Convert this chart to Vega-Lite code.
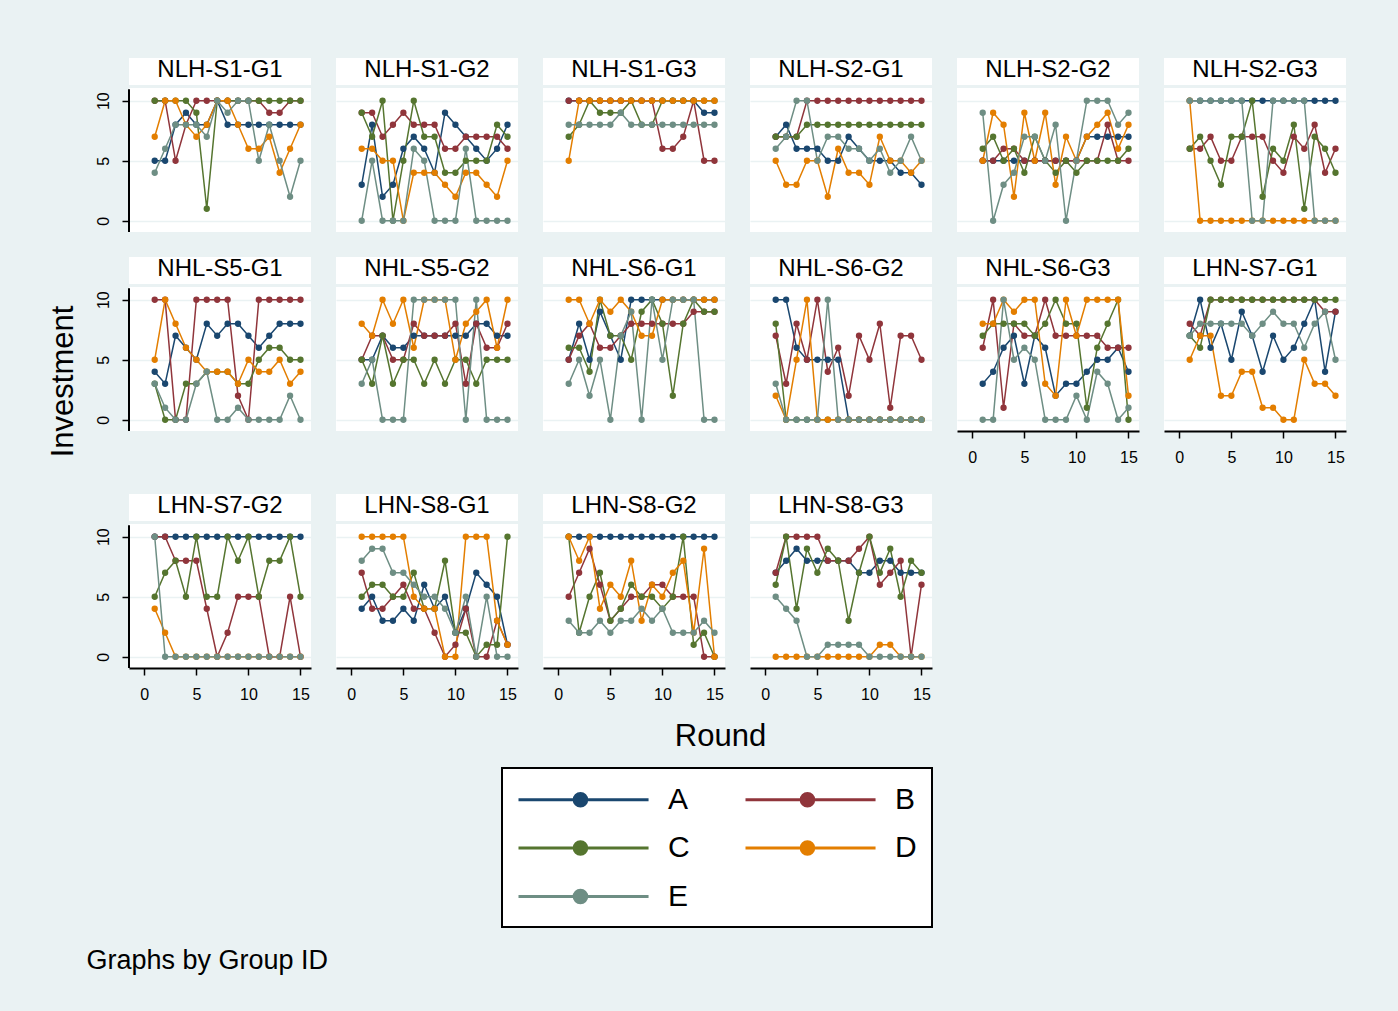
{
"$schema":"https://vega.github.io/schema/vega-lite/v6.json",
"background":"#EAF2F3",
"padding":{"left":46,"top":58,"right":53,"bottom":40},
"data":{"values":[
{"g":1,"p":"A","r":1,"v":5},{"g":1,"p":"A","r":2,"v":5},{"g":1,"p":"A","r":3,"v":8},{"g":1,"p":"A","r":4,"v":9},{"g":1,"p":"A","r":5,"v":8},{"g":1,"p":"A","r":6,"v":8},{"g":1,"p":"A","r":7,"v":10},{"g":1,"p":"A","r":8,"v":8},{"g":1,"p":"A","r":9,"v":8},{"g":1,"p":"A","r":10,"v":8},{"g":1,"p":"A","r":11,"v":8},{"g":1,"p":"A","r":12,"v":8},{"g":1,"p":"A","r":13,"v":8},{"g":1,"p":"A","r":14,"v":8},{"g":1,"p":"A","r":15,"v":8},
{"g":1,"p":"B","r":1,"v":10},{"g":1,"p":"B","r":2,"v":10},{"g":1,"p":"B","r":3,"v":5},{"g":1,"p":"B","r":4,"v":8},{"g":1,"p":"B","r":5,"v":10},{"g":1,"p":"B","r":6,"v":10},{"g":1,"p":"B","r":7,"v":10},{"g":1,"p":"B","r":8,"v":10},{"g":1,"p":"B","r":9,"v":10},{"g":1,"p":"B","r":10,"v":10},{"g":1,"p":"B","r":11,"v":10},{"g":1,"p":"B","r":12,"v":9},{"g":1,"p":"B","r":13,"v":9},{"g":1,"p":"B","r":14,"v":10},{"g":1,"p":"B","r":15,"v":10},
{"g":1,"p":"C","r":1,"v":10},{"g":1,"p":"C","r":2,"v":10},{"g":1,"p":"C","r":3,"v":10},{"g":1,"p":"C","r":4,"v":10},{"g":1,"p":"C","r":5,"v":9},{"g":1,"p":"C","r":6,"v":1},{"g":1,"p":"C","r":7,"v":10},{"g":1,"p":"C","r":8,"v":10},{"g":1,"p":"C","r":9,"v":10},{"g":1,"p":"C","r":10,"v":10},{"g":1,"p":"C","r":11,"v":10},{"g":1,"p":"C","r":12,"v":10},{"g":1,"p":"C","r":13,"v":10},{"g":1,"p":"C","r":14,"v":10},{"g":1,"p":"C","r":15,"v":10},
{"g":1,"p":"D","r":1,"v":7},{"g":1,"p":"D","r":2,"v":10},{"g":1,"p":"D","r":3,"v":10},{"g":1,"p":"D","r":4,"v":8},{"g":1,"p":"D","r":5,"v":7},{"g":1,"p":"D","r":6,"v":8},{"g":1,"p":"D","r":7,"v":10},{"g":1,"p":"D","r":8,"v":10},{"g":1,"p":"D","r":9,"v":8},{"g":1,"p":"D","r":10,"v":6},{"g":1,"p":"D","r":11,"v":6},{"g":1,"p":"D","r":12,"v":7},{"g":1,"p":"D","r":13,"v":4},{"g":1,"p":"D","r":14,"v":6},{"g":1,"p":"D","r":15,"v":8},
{"g":1,"p":"E","r":1,"v":4},{"g":1,"p":"E","r":2,"v":6},{"g":1,"p":"E","r":3,"v":8},{"g":1,"p":"E","r":4,"v":8},{"g":1,"p":"E","r":5,"v":8},{"g":1,"p":"E","r":6,"v":7},{"g":1,"p":"E","r":7,"v":10},{"g":1,"p":"E","r":8,"v":9},{"g":1,"p":"E","r":9,"v":10},{"g":1,"p":"E","r":10,"v":10},{"g":1,"p":"E","r":11,"v":5},{"g":1,"p":"E","r":12,"v":8},{"g":1,"p":"E","r":13,"v":5},{"g":1,"p":"E","r":14,"v":2},{"g":1,"p":"E","r":15,"v":5},
{"g":2,"p":"A","r":1,"v":3},{"g":2,"p":"A","r":2,"v":8},{"g":2,"p":"A","r":3,"v":2},{"g":2,"p":"A","r":4,"v":3},{"g":2,"p":"A","r":5,"v":6},{"g":2,"p":"A","r":6,"v":7},{"g":2,"p":"A","r":7,"v":6},{"g":2,"p":"A","r":8,"v":4},{"g":2,"p":"A","r":9,"v":9},{"g":2,"p":"A","r":10,"v":8},{"g":2,"p":"A","r":11,"v":7},{"g":2,"p":"A","r":12,"v":6},{"g":2,"p":"A","r":13,"v":5},{"g":2,"p":"A","r":14,"v":6},{"g":2,"p":"A","r":15,"v":8},
{"g":2,"p":"B","r":1,"v":9},{"g":2,"p":"B","r":2,"v":9},{"g":2,"p":"B","r":3,"v":7},{"g":2,"p":"B","r":4,"v":8},{"g":2,"p":"B","r":5,"v":9},{"g":2,"p":"B","r":6,"v":8},{"g":2,"p":"B","r":7,"v":8},{"g":2,"p":"B","r":8,"v":8},{"g":2,"p":"B","r":9,"v":6},{"g":2,"p":"B","r":10,"v":6},{"g":2,"p":"B","r":11,"v":7},{"g":2,"p":"B","r":12,"v":7},{"g":2,"p":"B","r":13,"v":7},{"g":2,"p":"B","r":14,"v":7},{"g":2,"p":"B","r":15,"v":6},
{"g":2,"p":"C","r":1,"v":9},{"g":2,"p":"C","r":2,"v":7},{"g":2,"p":"C","r":3,"v":10},{"g":2,"p":"C","r":4,"v":0},{"g":2,"p":"C","r":5,"v":5},{"g":2,"p":"C","r":6,"v":10},{"g":2,"p":"C","r":7,"v":7},{"g":2,"p":"C","r":8,"v":7},{"g":2,"p":"C","r":9,"v":4},{"g":2,"p":"C","r":10,"v":4},{"g":2,"p":"C","r":11,"v":5},{"g":2,"p":"C","r":12,"v":5},{"g":2,"p":"C","r":13,"v":5},{"g":2,"p":"C","r":14,"v":8},{"g":2,"p":"C","r":15,"v":7},
{"g":2,"p":"D","r":1,"v":6},{"g":2,"p":"D","r":2,"v":6},{"g":2,"p":"D","r":3,"v":5},{"g":2,"p":"D","r":4,"v":5},{"g":2,"p":"D","r":5,"v":0},{"g":2,"p":"D","r":6,"v":4},{"g":2,"p":"D","r":7,"v":4},{"g":2,"p":"D","r":8,"v":4},{"g":2,"p":"D","r":9,"v":3},{"g":2,"p":"D","r":10,"v":2},{"g":2,"p":"D","r":11,"v":4},{"g":2,"p":"D","r":12,"v":4},{"g":2,"p":"D","r":13,"v":3},{"g":2,"p":"D","r":14,"v":2},{"g":2,"p":"D","r":15,"v":5},
{"g":2,"p":"E","r":1,"v":0},{"g":2,"p":"E","r":2,"v":5},{"g":2,"p":"E","r":3,"v":0},{"g":2,"p":"E","r":4,"v":0},{"g":2,"p":"E","r":5,"v":0},{"g":2,"p":"E","r":6,"v":6},{"g":2,"p":"E","r":7,"v":5},{"g":2,"p":"E","r":8,"v":0},{"g":2,"p":"E","r":9,"v":0},{"g":2,"p":"E","r":10,"v":0},{"g":2,"p":"E","r":11,"v":6},{"g":2,"p":"E","r":12,"v":0},{"g":2,"p":"E","r":13,"v":0},{"g":2,"p":"E","r":14,"v":0},{"g":2,"p":"E","r":15,"v":0},
{"g":3,"p":"A","r":1,"v":10},{"g":3,"p":"A","r":2,"v":10},{"g":3,"p":"A","r":3,"v":10},{"g":3,"p":"A","r":4,"v":10},{"g":3,"p":"A","r":5,"v":10},{"g":3,"p":"A","r":6,"v":10},{"g":3,"p":"A","r":7,"v":10},{"g":3,"p":"A","r":8,"v":10},{"g":3,"p":"A","r":9,"v":10},{"g":3,"p":"A","r":10,"v":10},{"g":3,"p":"A","r":11,"v":10},{"g":3,"p":"A","r":12,"v":10},{"g":3,"p":"A","r":13,"v":10},{"g":3,"p":"A","r":14,"v":9},{"g":3,"p":"A","r":15,"v":9},
{"g":3,"p":"B","r":1,"v":10},{"g":3,"p":"B","r":2,"v":10},{"g":3,"p":"B","r":3,"v":10},{"g":3,"p":"B","r":4,"v":10},{"g":3,"p":"B","r":5,"v":10},{"g":3,"p":"B","r":6,"v":10},{"g":3,"p":"B","r":7,"v":10},{"g":3,"p":"B","r":8,"v":10},{"g":3,"p":"B","r":9,"v":10},{"g":3,"p":"B","r":10,"v":6},{"g":3,"p":"B","r":11,"v":6},{"g":3,"p":"B","r":12,"v":7},{"g":3,"p":"B","r":13,"v":10},{"g":3,"p":"B","r":14,"v":5},{"g":3,"p":"B","r":15,"v":5},
{"g":3,"p":"C","r":1,"v":7},{"g":3,"p":"C","r":2,"v":8},{"g":3,"p":"C","r":3,"v":10},{"g":3,"p":"C","r":4,"v":9},{"g":3,"p":"C","r":5,"v":9},{"g":3,"p":"C","r":6,"v":9},{"g":3,"p":"C","r":7,"v":10},{"g":3,"p":"C","r":8,"v":8},{"g":3,"p":"C","r":9,"v":8},{"g":3,"p":"C","r":10,"v":10},{"g":3,"p":"C","r":11,"v":10},{"g":3,"p":"C","r":12,"v":10},{"g":3,"p":"C","r":13,"v":10},{"g":3,"p":"C","r":14,"v":10},{"g":3,"p":"C","r":15,"v":10},
{"g":3,"p":"D","r":1,"v":5},{"g":3,"p":"D","r":2,"v":10},{"g":3,"p":"D","r":3,"v":10},{"g":3,"p":"D","r":4,"v":10},{"g":3,"p":"D","r":5,"v":10},{"g":3,"p":"D","r":6,"v":10},{"g":3,"p":"D","r":7,"v":10},{"g":3,"p":"D","r":8,"v":10},{"g":3,"p":"D","r":9,"v":10},{"g":3,"p":"D","r":10,"v":10},{"g":3,"p":"D","r":11,"v":10},{"g":3,"p":"D","r":12,"v":10},{"g":3,"p":"D","r":13,"v":10},{"g":3,"p":"D","r":14,"v":10},{"g":3,"p":"D","r":15,"v":10},
{"g":3,"p":"E","r":1,"v":8},{"g":3,"p":"E","r":2,"v":8},{"g":3,"p":"E","r":3,"v":8},{"g":3,"p":"E","r":4,"v":8},{"g":3,"p":"E","r":5,"v":8},{"g":3,"p":"E","r":6,"v":9},{"g":3,"p":"E","r":7,"v":8},{"g":3,"p":"E","r":8,"v":8},{"g":3,"p":"E","r":9,"v":8},{"g":3,"p":"E","r":10,"v":8},{"g":3,"p":"E","r":11,"v":8},{"g":3,"p":"E","r":12,"v":8},{"g":3,"p":"E","r":13,"v":8},{"g":3,"p":"E","r":14,"v":8},{"g":3,"p":"E","r":15,"v":8},
{"g":4,"p":"A","r":1,"v":7},{"g":4,"p":"A","r":2,"v":8},{"g":4,"p":"A","r":3,"v":6},{"g":4,"p":"A","r":4,"v":6},{"g":4,"p":"A","r":5,"v":6},{"g":4,"p":"A","r":6,"v":5},{"g":4,"p":"A","r":7,"v":5},{"g":4,"p":"A","r":8,"v":7},{"g":4,"p":"A","r":9,"v":6},{"g":4,"p":"A","r":10,"v":5},{"g":4,"p":"A","r":11,"v":5},{"g":4,"p":"A","r":12,"v":5},{"g":4,"p":"A","r":13,"v":4},{"g":4,"p":"A","r":14,"v":4},{"g":4,"p":"A","r":15,"v":3},
{"g":4,"p":"B","r":1,"v":7},{"g":4,"p":"B","r":2,"v":7},{"g":4,"p":"B","r":3,"v":7},{"g":4,"p":"B","r":4,"v":10},{"g":4,"p":"B","r":5,"v":10},{"g":4,"p":"B","r":6,"v":10},{"g":4,"p":"B","r":7,"v":10},{"g":4,"p":"B","r":8,"v":10},{"g":4,"p":"B","r":9,"v":10},{"g":4,"p":"B","r":10,"v":10},{"g":4,"p":"B","r":11,"v":10},{"g":4,"p":"B","r":12,"v":10},{"g":4,"p":"B","r":13,"v":10},{"g":4,"p":"B","r":14,"v":10},{"g":4,"p":"B","r":15,"v":10},
{"g":4,"p":"C","r":1,"v":7},{"g":4,"p":"C","r":2,"v":7},{"g":4,"p":"C","r":3,"v":7},{"g":4,"p":"C","r":4,"v":8},{"g":4,"p":"C","r":5,"v":8},{"g":4,"p":"C","r":6,"v":8},{"g":4,"p":"C","r":7,"v":8},{"g":4,"p":"C","r":8,"v":8},{"g":4,"p":"C","r":9,"v":8},{"g":4,"p":"C","r":10,"v":8},{"g":4,"p":"C","r":11,"v":8},{"g":4,"p":"C","r":12,"v":8},{"g":4,"p":"C","r":13,"v":8},{"g":4,"p":"C","r":14,"v":8},{"g":4,"p":"C","r":15,"v":8},
{"g":4,"p":"D","r":1,"v":5},{"g":4,"p":"D","r":2,"v":3},{"g":4,"p":"D","r":3,"v":3},{"g":4,"p":"D","r":4,"v":5},{"g":4,"p":"D","r":5,"v":5},{"g":4,"p":"D","r":6,"v":2},{"g":4,"p":"D","r":7,"v":6},{"g":4,"p":"D","r":8,"v":4},{"g":4,"p":"D","r":9,"v":4},{"g":4,"p":"D","r":10,"v":3},{"g":4,"p":"D","r":11,"v":7},{"g":4,"p":"D","r":12,"v":5},{"g":4,"p":"D","r":13,"v":5},{"g":4,"p":"D","r":14,"v":4},{"g":4,"p":"D","r":15,"v":5},
{"g":4,"p":"E","r":1,"v":6},{"g":4,"p":"E","r":2,"v":7},{"g":4,"p":"E","r":3,"v":10},{"g":4,"p":"E","r":4,"v":10},{"g":4,"p":"E","r":5,"v":5},{"g":4,"p":"E","r":6,"v":7},{"g":4,"p":"E","r":7,"v":7},{"g":4,"p":"E","r":8,"v":6},{"g":4,"p":"E","r":9,"v":6},{"g":4,"p":"E","r":10,"v":5},{"g":4,"p":"E","r":11,"v":6},{"g":4,"p":"E","r":12,"v":4},{"g":4,"p":"E","r":13,"v":5},{"g":4,"p":"E","r":14,"v":7},{"g":4,"p":"E","r":15,"v":5},
{"g":5,"p":"A","r":1,"v":5},{"g":5,"p":"A","r":2,"v":5},{"g":5,"p":"A","r":3,"v":5},{"g":5,"p":"A","r":4,"v":5},{"g":5,"p":"A","r":5,"v":5},{"g":5,"p":"A","r":6,"v":5},{"g":5,"p":"A","r":7,"v":5},{"g":5,"p":"A","r":8,"v":5},{"g":5,"p":"A","r":9,"v":5},{"g":5,"p":"A","r":10,"v":5},{"g":5,"p":"A","r":11,"v":7},{"g":5,"p":"A","r":12,"v":7},{"g":5,"p":"A","r":13,"v":7},{"g":5,"p":"A","r":14,"v":7},{"g":5,"p":"A","r":15,"v":7},
{"g":5,"p":"B","r":1,"v":5},{"g":5,"p":"B","r":2,"v":5},{"g":5,"p":"B","r":3,"v":6},{"g":5,"p":"B","r":4,"v":6},{"g":5,"p":"B","r":5,"v":5},{"g":5,"p":"B","r":6,"v":5},{"g":5,"p":"B","r":7,"v":5},{"g":5,"p":"B","r":8,"v":5},{"g":5,"p":"B","r":9,"v":5},{"g":5,"p":"B","r":10,"v":5},{"g":5,"p":"B","r":11,"v":5},{"g":5,"p":"B","r":12,"v":5},{"g":5,"p":"B","r":13,"v":8},{"g":5,"p":"B","r":14,"v":5},{"g":5,"p":"B","r":15,"v":5},
{"g":5,"p":"C","r":1,"v":6},{"g":5,"p":"C","r":2,"v":7},{"g":5,"p":"C","r":3,"v":5},{"g":5,"p":"C","r":4,"v":6},{"g":5,"p":"C","r":5,"v":4},{"g":5,"p":"C","r":6,"v":7},{"g":5,"p":"C","r":7,"v":5},{"g":5,"p":"C","r":8,"v":4},{"g":5,"p":"C","r":9,"v":5},{"g":5,"p":"C","r":10,"v":4},{"g":5,"p":"C","r":11,"v":5},{"g":5,"p":"C","r":12,"v":5},{"g":5,"p":"C","r":13,"v":5},{"g":5,"p":"C","r":14,"v":5},{"g":5,"p":"C","r":15,"v":6},
{"g":5,"p":"D","r":1,"v":5},{"g":5,"p":"D","r":2,"v":9},{"g":5,"p":"D","r":3,"v":8},{"g":5,"p":"D","r":4,"v":2},{"g":5,"p":"D","r":5,"v":9},{"g":5,"p":"D","r":6,"v":5},{"g":5,"p":"D","r":7,"v":9},{"g":5,"p":"D","r":8,"v":3},{"g":5,"p":"D","r":9,"v":7},{"g":5,"p":"D","r":10,"v":5},{"g":5,"p":"D","r":11,"v":7},{"g":5,"p":"D","r":12,"v":8},{"g":5,"p":"D","r":13,"v":9},{"g":5,"p":"D","r":14,"v":6},{"g":5,"p":"D","r":15,"v":8},
{"g":5,"p":"E","r":1,"v":9},{"g":5,"p":"E","r":2,"v":0},{"g":5,"p":"E","r":3,"v":3},{"g":5,"p":"E","r":4,"v":4},{"g":5,"p":"E","r":5,"v":7},{"g":5,"p":"E","r":6,"v":7},{"g":5,"p":"E","r":7,"v":5},{"g":5,"p":"E","r":8,"v":8},{"g":5,"p":"E","r":9,"v":0},{"g":5,"p":"E","r":10,"v":5},{"g":5,"p":"E","r":11,"v":10},{"g":5,"p":"E","r":12,"v":10},{"g":5,"p":"E","r":13,"v":10},{"g":5,"p":"E","r":14,"v":8},{"g":5,"p":"E","r":15,"v":9},
{"g":6,"p":"A","r":1,"v":10},{"g":6,"p":"A","r":2,"v":10},{"g":6,"p":"A","r":3,"v":10},{"g":6,"p":"A","r":4,"v":10},{"g":6,"p":"A","r":5,"v":10},{"g":6,"p":"A","r":6,"v":10},{"g":6,"p":"A","r":7,"v":10},{"g":6,"p":"A","r":8,"v":10},{"g":6,"p":"A","r":9,"v":10},{"g":6,"p":"A","r":10,"v":10},{"g":6,"p":"A","r":11,"v":10},{"g":6,"p":"A","r":12,"v":10},{"g":6,"p":"A","r":13,"v":10},{"g":6,"p":"A","r":14,"v":10},{"g":6,"p":"A","r":15,"v":10},
{"g":6,"p":"B","r":1,"v":6},{"g":6,"p":"B","r":2,"v":6},{"g":6,"p":"B","r":3,"v":7},{"g":6,"p":"B","r":4,"v":5},{"g":6,"p":"B","r":5,"v":5},{"g":6,"p":"B","r":6,"v":7},{"g":6,"p":"B","r":7,"v":7},{"g":6,"p":"B","r":8,"v":7},{"g":6,"p":"B","r":9,"v":5},{"g":6,"p":"B","r":10,"v":4},{"g":6,"p":"B","r":11,"v":7},{"g":6,"p":"B","r":12,"v":6},{"g":6,"p":"B","r":13,"v":8},{"g":6,"p":"B","r":14,"v":4},{"g":6,"p":"B","r":15,"v":6},
{"g":6,"p":"C","r":1,"v":6},{"g":6,"p":"C","r":2,"v":7},{"g":6,"p":"C","r":3,"v":5},{"g":6,"p":"C","r":4,"v":3},{"g":6,"p":"C","r":5,"v":7},{"g":6,"p":"C","r":6,"v":7},{"g":6,"p":"C","r":7,"v":10},{"g":6,"p":"C","r":8,"v":2},{"g":6,"p":"C","r":9,"v":6},{"g":6,"p":"C","r":10,"v":5},{"g":6,"p":"C","r":11,"v":8},{"g":6,"p":"C","r":12,"v":1},{"g":6,"p":"C","r":13,"v":7},{"g":6,"p":"C","r":14,"v":6},{"g":6,"p":"C","r":15,"v":4},
{"g":6,"p":"D","r":1,"v":10},{"g":6,"p":"D","r":2,"v":0},{"g":6,"p":"D","r":3,"v":0},{"g":6,"p":"D","r":4,"v":0},{"g":6,"p":"D","r":5,"v":0},{"g":6,"p":"D","r":6,"v":0},{"g":6,"p":"D","r":7,"v":0},{"g":6,"p":"D","r":8,"v":0},{"g":6,"p":"D","r":9,"v":0},{"g":6,"p":"D","r":10,"v":0},{"g":6,"p":"D","r":11,"v":0},{"g":6,"p":"D","r":12,"v":0},{"g":6,"p":"D","r":13,"v":0},{"g":6,"p":"D","r":14,"v":0},{"g":6,"p":"D","r":15,"v":0},
{"g":6,"p":"E","r":1,"v":10},{"g":6,"p":"E","r":2,"v":10},{"g":6,"p":"E","r":3,"v":10},{"g":6,"p":"E","r":4,"v":10},{"g":6,"p":"E","r":5,"v":10},{"g":6,"p":"E","r":6,"v":10},{"g":6,"p":"E","r":7,"v":0},{"g":6,"p":"E","r":8,"v":0},{"g":6,"p":"E","r":9,"v":10},{"g":6,"p":"E","r":10,"v":10},{"g":6,"p":"E","r":11,"v":10},{"g":6,"p":"E","r":12,"v":10},{"g":6,"p":"E","r":13,"v":0},{"g":6,"p":"E","r":14,"v":0},{"g":6,"p":"E","r":15,"v":0},
{"g":7,"p":"A","r":1,"v":4},{"g":7,"p":"A","r":2,"v":3},{"g":7,"p":"A","r":3,"v":7},{"g":7,"p":"A","r":4,"v":6},{"g":7,"p":"A","r":5,"v":5},{"g":7,"p":"A","r":6,"v":8},{"g":7,"p":"A","r":7,"v":7},{"g":7,"p":"A","r":8,"v":8},{"g":7,"p":"A","r":9,"v":8},{"g":7,"p":"A","r":10,"v":7},{"g":7,"p":"A","r":11,"v":6},{"g":7,"p":"A","r":12,"v":7},{"g":7,"p":"A","r":13,"v":8},{"g":7,"p":"A","r":14,"v":8},{"g":7,"p":"A","r":15,"v":8},
{"g":7,"p":"B","r":1,"v":10},{"g":7,"p":"B","r":2,"v":10},{"g":7,"p":"B","r":3,"v":0},{"g":7,"p":"B","r":4,"v":0},{"g":7,"p":"B","r":5,"v":10},{"g":7,"p":"B","r":6,"v":10},{"g":7,"p":"B","r":7,"v":10},{"g":7,"p":"B","r":8,"v":10},{"g":7,"p":"B","r":9,"v":2},{"g":7,"p":"B","r":10,"v":0},{"g":7,"p":"B","r":11,"v":10},{"g":7,"p":"B","r":12,"v":10},{"g":7,"p":"B","r":13,"v":10},{"g":7,"p":"B","r":14,"v":10},{"g":7,"p":"B","r":15,"v":10},
{"g":7,"p":"C","r":1,"v":3},{"g":7,"p":"C","r":2,"v":0},{"g":7,"p":"C","r":3,"v":0},{"g":7,"p":"C","r":4,"v":3},{"g":7,"p":"C","r":5,"v":3},{"g":7,"p":"C","r":6,"v":4},{"g":7,"p":"C","r":7,"v":4},{"g":7,"p":"C","r":8,"v":4},{"g":7,"p":"C","r":9,"v":3},{"g":7,"p":"C","r":10,"v":3},{"g":7,"p":"C","r":11,"v":5},{"g":7,"p":"C","r":12,"v":6},{"g":7,"p":"C","r":13,"v":6},{"g":7,"p":"C","r":14,"v":5},{"g":7,"p":"C","r":15,"v":5},
{"g":7,"p":"D","r":1,"v":5},{"g":7,"p":"D","r":2,"v":10},{"g":7,"p":"D","r":3,"v":8},{"g":7,"p":"D","r":4,"v":6},{"g":7,"p":"D","r":5,"v":5},{"g":7,"p":"D","r":6,"v":4},{"g":7,"p":"D","r":7,"v":4},{"g":7,"p":"D","r":8,"v":4},{"g":7,"p":"D","r":9,"v":3},{"g":7,"p":"D","r":10,"v":5},{"g":7,"p":"D","r":11,"v":4},{"g":7,"p":"D","r":12,"v":4},{"g":7,"p":"D","r":13,"v":5},{"g":7,"p":"D","r":14,"v":3},{"g":7,"p":"D","r":15,"v":4},
{"g":7,"p":"E","r":1,"v":3},{"g":7,"p":"E","r":2,"v":1},{"g":7,"p":"E","r":3,"v":0},{"g":7,"p":"E","r":4,"v":0},{"g":7,"p":"E","r":5,"v":3},{"g":7,"p":"E","r":6,"v":4},{"g":7,"p":"E","r":7,"v":0},{"g":7,"p":"E","r":8,"v":0},{"g":7,"p":"E","r":9,"v":1},{"g":7,"p":"E","r":10,"v":0},{"g":7,"p":"E","r":11,"v":0},{"g":7,"p":"E","r":12,"v":0},{"g":7,"p":"E","r":13,"v":0},{"g":7,"p":"E","r":14,"v":2},{"g":7,"p":"E","r":15,"v":0},
{"g":8,"p":"A","r":1,"v":5},{"g":8,"p":"A","r":2,"v":5},{"g":8,"p":"A","r":3,"v":7},{"g":8,"p":"A","r":4,"v":6},{"g":8,"p":"A","r":5,"v":6},{"g":8,"p":"A","r":6,"v":7},{"g":8,"p":"A","r":7,"v":7},{"g":8,"p":"A","r":8,"v":7},{"g":8,"p":"A","r":9,"v":7},{"g":8,"p":"A","r":10,"v":7},{"g":8,"p":"A","r":11,"v":7},{"g":8,"p":"A","r":12,"v":8},{"g":8,"p":"A","r":13,"v":8},{"g":8,"p":"A","r":14,"v":7},{"g":8,"p":"A","r":15,"v":7},
{"g":8,"p":"B","r":1,"v":5},{"g":8,"p":"B","r":2,"v":7},{"g":8,"p":"B","r":3,"v":7},{"g":8,"p":"B","r":4,"v":5},{"g":8,"p":"B","r":5,"v":5},{"g":8,"p":"B","r":6,"v":8},{"g":8,"p":"B","r":7,"v":7},{"g":8,"p":"B","r":8,"v":7},{"g":8,"p":"B","r":9,"v":7},{"g":8,"p":"B","r":10,"v":8},{"g":8,"p":"B","r":11,"v":3},{"g":8,"p":"B","r":12,"v":8},{"g":8,"p":"B","r":13,"v":6},{"g":8,"p":"B","r":14,"v":6},{"g":8,"p":"B","r":15,"v":8},
{"g":8,"p":"C","r":1,"v":5},{"g":8,"p":"C","r":2,"v":3},{"g":8,"p":"C","r":3,"v":7},{"g":8,"p":"C","r":4,"v":3},{"g":8,"p":"C","r":5,"v":5},{"g":8,"p":"C","r":6,"v":5},{"g":8,"p":"C","r":7,"v":3},{"g":8,"p":"C","r":8,"v":5},{"g":8,"p":"C","r":9,"v":3},{"g":8,"p":"C","r":10,"v":5},{"g":8,"p":"C","r":11,"v":5},{"g":8,"p":"C","r":12,"v":3},{"g":8,"p":"C","r":13,"v":5},{"g":8,"p":"C","r":14,"v":5},{"g":8,"p":"C","r":15,"v":5},
{"g":8,"p":"D","r":1,"v":8},{"g":8,"p":"D","r":2,"v":7},{"g":8,"p":"D","r":3,"v":10},{"g":8,"p":"D","r":4,"v":8},{"g":8,"p":"D","r":5,"v":10},{"g":8,"p":"D","r":6,"v":6},{"g":8,"p":"D","r":7,"v":10},{"g":8,"p":"D","r":8,"v":10},{"g":8,"p":"D","r":9,"v":10},{"g":8,"p":"D","r":10,"v":5},{"g":8,"p":"D","r":11,"v":8},{"g":8,"p":"D","r":12,"v":9},{"g":8,"p":"D","r":13,"v":10},{"g":8,"p":"D","r":14,"v":6},{"g":8,"p":"D","r":15,"v":10},
{"g":8,"p":"E","r":1,"v":3},{"g":8,"p":"E","r":2,"v":5},{"g":8,"p":"E","r":3,"v":0},{"g":8,"p":"E","r":4,"v":0},{"g":8,"p":"E","r":5,"v":0},{"g":8,"p":"E","r":6,"v":10},{"g":8,"p":"E","r":7,"v":10},{"g":8,"p":"E","r":8,"v":10},{"g":8,"p":"E","r":9,"v":10},{"g":8,"p":"E","r":10,"v":10},{"g":8,"p":"E","r":11,"v":0},{"g":8,"p":"E","r":12,"v":10},{"g":8,"p":"E","r":13,"v":0},{"g":8,"p":"E","r":14,"v":0},{"g":8,"p":"E","r":15,"v":0},
{"g":9,"p":"A","r":1,"v":5},{"g":9,"p":"A","r":2,"v":8},{"g":9,"p":"A","r":3,"v":5},{"g":9,"p":"A","r":4,"v":9},{"g":9,"p":"A","r":5,"v":7},{"g":9,"p":"A","r":6,"v":5},{"g":9,"p":"A","r":7,"v":10},{"g":9,"p":"A","r":8,"v":10},{"g":9,"p":"A","r":9,"v":10},{"g":9,"p":"A","r":10,"v":10},{"g":9,"p":"A","r":11,"v":10},{"g":9,"p":"A","r":12,"v":10},{"g":9,"p":"A","r":13,"v":10},{"g":9,"p":"A","r":14,"v":10},{"g":9,"p":"A","r":15,"v":10},
{"g":9,"p":"B","r":1,"v":5},{"g":9,"p":"B","r":2,"v":7},{"g":9,"p":"B","r":3,"v":8},{"g":9,"p":"B","r":4,"v":6},{"g":9,"p":"B","r":5,"v":6},{"g":9,"p":"B","r":6,"v":7},{"g":9,"p":"B","r":7,"v":8},{"g":9,"p":"B","r":8,"v":8},{"g":9,"p":"B","r":9,"v":8},{"g":9,"p":"B","r":10,"v":8},{"g":9,"p":"B","r":11,"v":8},{"g":9,"p":"B","r":12,"v":8},{"g":9,"p":"B","r":13,"v":9},{"g":9,"p":"B","r":14,"v":9},{"g":9,"p":"B","r":15,"v":9},
{"g":9,"p":"C","r":1,"v":6},{"g":9,"p":"C","r":2,"v":6},{"g":9,"p":"C","r":3,"v":4},{"g":9,"p":"C","r":4,"v":10},{"g":9,"p":"C","r":5,"v":7},{"g":9,"p":"C","r":6,"v":7},{"g":9,"p":"C","r":7,"v":5},{"g":9,"p":"C","r":8,"v":9},{"g":9,"p":"C","r":9,"v":10},{"g":9,"p":"C","r":10,"v":8},{"g":9,"p":"C","r":11,"v":2},{"g":9,"p":"C","r":12,"v":8},{"g":9,"p":"C","r":13,"v":10},{"g":9,"p":"C","r":14,"v":9},{"g":9,"p":"C","r":15,"v":9},
{"g":9,"p":"D","r":1,"v":10},{"g":9,"p":"D","r":2,"v":10},{"g":9,"p":"D","r":3,"v":8},{"g":9,"p":"D","r":4,"v":10},{"g":9,"p":"D","r":5,"v":9},{"g":9,"p":"D","r":6,"v":10},{"g":9,"p":"D","r":7,"v":9},{"g":9,"p":"D","r":8,"v":7},{"g":9,"p":"D","r":9,"v":7},{"g":9,"p":"D","r":10,"v":10},{"g":9,"p":"D","r":11,"v":10},{"g":9,"p":"D","r":12,"v":10},{"g":9,"p":"D","r":13,"v":10},{"g":9,"p":"D","r":14,"v":10},{"g":9,"p":"D","r":15,"v":10},
{"g":9,"p":"E","r":1,"v":3},{"g":9,"p":"E","r":2,"v":5},{"g":9,"p":"E","r":3,"v":2},{"g":9,"p":"E","r":4,"v":5},{"g":9,"p":"E","r":5,"v":0},{"g":9,"p":"E","r":6,"v":7},{"g":9,"p":"E","r":7,"v":9},{"g":9,"p":"E","r":8,"v":0},{"g":9,"p":"E","r":9,"v":10},{"g":9,"p":"E","r":10,"v":5},{"g":9,"p":"E","r":11,"v":10},{"g":9,"p":"E","r":12,"v":10},{"g":9,"p":"E","r":13,"v":10},{"g":9,"p":"E","r":14,"v":0},{"g":9,"p":"E","r":15,"v":0},
{"g":10,"p":"A","r":1,"v":10},{"g":10,"p":"A","r":2,"v":10},{"g":10,"p":"A","r":3,"v":6},{"g":10,"p":"A","r":4,"v":5},{"g":10,"p":"A","r":5,"v":5},{"g":10,"p":"A","r":6,"v":5},{"g":10,"p":"A","r":7,"v":5},{"g":10,"p":"A","r":8,"v":0},{"g":10,"p":"A","r":9,"v":0},{"g":10,"p":"A","r":10,"v":0},{"g":10,"p":"A","r":11,"v":0},{"g":10,"p":"A","r":12,"v":0},{"g":10,"p":"A","r":13,"v":0},{"g":10,"p":"A","r":14,"v":0},{"g":10,"p":"A","r":15,"v":0},
{"g":10,"p":"B","r":1,"v":7},{"g":10,"p":"B","r":2,"v":3},{"g":10,"p":"B","r":3,"v":8},{"g":10,"p":"B","r":4,"v":5},{"g":10,"p":"B","r":5,"v":10},{"g":10,"p":"B","r":6,"v":4},{"g":10,"p":"B","r":7,"v":6},{"g":10,"p":"B","r":8,"v":2},{"g":10,"p":"B","r":9,"v":7},{"g":10,"p":"B","r":10,"v":5},{"g":10,"p":"B","r":11,"v":8},{"g":10,"p":"B","r":12,"v":1},{"g":10,"p":"B","r":13,"v":7},{"g":10,"p":"B","r":14,"v":7},{"g":10,"p":"B","r":15,"v":5},
{"g":10,"p":"C","r":1,"v":8},{"g":10,"p":"C","r":2,"v":0},{"g":10,"p":"C","r":3,"v":0},{"g":10,"p":"C","r":4,"v":0},{"g":10,"p":"C","r":5,"v":0},{"g":10,"p":"C","r":6,"v":0},{"g":10,"p":"C","r":7,"v":0},{"g":10,"p":"C","r":8,"v":0},{"g":10,"p":"C","r":9,"v":0},{"g":10,"p":"C","r":10,"v":0},{"g":10,"p":"C","r":11,"v":0},{"g":10,"p":"C","r":12,"v":0},{"g":10,"p":"C","r":13,"v":0},{"g":10,"p":"C","r":14,"v":0},{"g":10,"p":"C","r":15,"v":0},
{"g":10,"p":"D","r":1,"v":2},{"g":10,"p":"D","r":2,"v":0},{"g":10,"p":"D","r":3,"v":5},{"g":10,"p":"D","r":4,"v":10},{"g":10,"p":"D","r":5,"v":0},{"g":10,"p":"D","r":6,"v":0},{"g":10,"p":"D","r":7,"v":0},{"g":10,"p":"D","r":8,"v":0},{"g":10,"p":"D","r":9,"v":0},{"g":10,"p":"D","r":10,"v":0},{"g":10,"p":"D","r":11,"v":0},{"g":10,"p":"D","r":12,"v":0},{"g":10,"p":"D","r":13,"v":0},{"g":10,"p":"D","r":14,"v":0},{"g":10,"p":"D","r":15,"v":0},
{"g":10,"p":"E","r":1,"v":3},{"g":10,"p":"E","r":2,"v":0},{"g":10,"p":"E","r":3,"v":0},{"g":10,"p":"E","r":4,"v":0},{"g":10,"p":"E","r":5,"v":0},{"g":10,"p":"E","r":6,"v":10},{"g":10,"p":"E","r":7,"v":0},{"g":10,"p":"E","r":8,"v":0},{"g":10,"p":"E","r":9,"v":0},{"g":10,"p":"E","r":10,"v":0},{"g":10,"p":"E","r":11,"v":0},{"g":10,"p":"E","r":12,"v":0},{"g":10,"p":"E","r":13,"v":0},{"g":10,"p":"E","r":14,"v":0},{"g":10,"p":"E","r":15,"v":0},
{"g":11,"p":"A","r":1,"v":3},{"g":11,"p":"A","r":2,"v":4},{"g":11,"p":"A","r":3,"v":6},{"g":11,"p":"A","r":4,"v":7},{"g":11,"p":"A","r":5,"v":3},{"g":11,"p":"A","r":6,"v":7},{"g":11,"p":"A","r":7,"v":6},{"g":11,"p":"A","r":8,"v":2},{"g":11,"p":"A","r":9,"v":3},{"g":11,"p":"A","r":10,"v":3},{"g":11,"p":"A","r":11,"v":4},{"g":11,"p":"A","r":12,"v":5},{"g":11,"p":"A","r":13,"v":5},{"g":11,"p":"A","r":14,"v":6},{"g":11,"p":"A","r":15,"v":4},
{"g":11,"p":"B","r":1,"v":6},{"g":11,"p":"B","r":2,"v":10},{"g":11,"p":"B","r":3,"v":1},{"g":11,"p":"B","r":4,"v":8},{"g":11,"p":"B","r":5,"v":7},{"g":11,"p":"B","r":6,"v":7},{"g":11,"p":"B","r":7,"v":10},{"g":11,"p":"B","r":8,"v":7},{"g":11,"p":"B","r":9,"v":7},{"g":11,"p":"B","r":10,"v":7},{"g":11,"p":"B","r":11,"v":7},{"g":11,"p":"B","r":12,"v":7},{"g":11,"p":"B","r":13,"v":6},{"g":11,"p":"B","r":14,"v":6},{"g":11,"p":"B","r":15,"v":6},
{"g":11,"p":"C","r":1,"v":7},{"g":11,"p":"C","r":2,"v":8},{"g":11,"p":"C","r":3,"v":8},{"g":11,"p":"C","r":4,"v":8},{"g":11,"p":"C","r":5,"v":8},{"g":11,"p":"C","r":6,"v":7},{"g":11,"p":"C","r":7,"v":8},{"g":11,"p":"C","r":8,"v":10},{"g":11,"p":"C","r":9,"v":8},{"g":11,"p":"C","r":10,"v":8},{"g":11,"p":"C","r":11,"v":1},{"g":11,"p":"C","r":12,"v":6},{"g":11,"p":"C","r":13,"v":8},{"g":11,"p":"C","r":14,"v":10},{"g":11,"p":"C","r":15,"v":0},
{"g":11,"p":"D","r":1,"v":8},{"g":11,"p":"D","r":2,"v":8},{"g":11,"p":"D","r":3,"v":10},{"g":11,"p":"D","r":4,"v":9},{"g":11,"p":"D","r":5,"v":10},{"g":11,"p":"D","r":6,"v":10},{"g":11,"p":"D","r":7,"v":3},{"g":11,"p":"D","r":8,"v":2},{"g":11,"p":"D","r":9,"v":10},{"g":11,"p":"D","r":10,"v":7},{"g":11,"p":"D","r":11,"v":10},{"g":11,"p":"D","r":12,"v":10},{"g":11,"p":"D","r":13,"v":10},{"g":11,"p":"D","r":14,"v":10},{"g":11,"p":"D","r":15,"v":2},
{"g":11,"p":"E","r":1,"v":0},{"g":11,"p":"E","r":2,"v":0},{"g":11,"p":"E","r":3,"v":10},{"g":11,"p":"E","r":4,"v":5},{"g":11,"p":"E","r":5,"v":6},{"g":11,"p":"E","r":6,"v":5},{"g":11,"p":"E","r":7,"v":0},{"g":11,"p":"E","r":8,"v":0},{"g":11,"p":"E","r":9,"v":0},{"g":11,"p":"E","r":10,"v":2},{"g":11,"p":"E","r":11,"v":0},{"g":11,"p":"E","r":12,"v":4},{"g":11,"p":"E","r":13,"v":3},{"g":11,"p":"E","r":14,"v":0},{"g":11,"p":"E","r":15,"v":1},
{"g":12,"p":"A","r":1,"v":7},{"g":12,"p":"A","r":2,"v":10},{"g":12,"p":"A","r":3,"v":6},{"g":12,"p":"A","r":4,"v":8},{"g":12,"p":"A","r":5,"v":5},{"g":12,"p":"A","r":6,"v":9},{"g":12,"p":"A","r":7,"v":7},{"g":12,"p":"A","r":8,"v":4},{"g":12,"p":"A","r":9,"v":7},{"g":12,"p":"A","r":10,"v":5},{"g":12,"p":"A","r":11,"v":6},{"g":12,"p":"A","r":12,"v":8},{"g":12,"p":"A","r":13,"v":10},{"g":12,"p":"A","r":14,"v":4},{"g":12,"p":"A","r":15,"v":9},
{"g":12,"p":"B","r":1,"v":8},{"g":12,"p":"B","r":2,"v":7},{"g":12,"p":"B","r":3,"v":10},{"g":12,"p":"B","r":4,"v":10},{"g":12,"p":"B","r":5,"v":10},{"g":12,"p":"B","r":6,"v":10},{"g":12,"p":"B","r":7,"v":10},{"g":12,"p":"B","r":8,"v":10},{"g":12,"p":"B","r":9,"v":10},{"g":12,"p":"B","r":10,"v":10},{"g":12,"p":"B","r":11,"v":10},{"g":12,"p":"B","r":12,"v":10},{"g":12,"p":"B","r":13,"v":10},{"g":12,"p":"B","r":14,"v":9},{"g":12,"p":"B","r":15,"v":9},
{"g":12,"p":"C","r":1,"v":7},{"g":12,"p":"C","r":2,"v":6},{"g":12,"p":"C","r":3,"v":10},{"g":12,"p":"C","r":4,"v":10},{"g":12,"p":"C","r":5,"v":10},{"g":12,"p":"C","r":6,"v":10},{"g":12,"p":"C","r":7,"v":10},{"g":12,"p":"C","r":8,"v":10},{"g":12,"p":"C","r":9,"v":10},{"g":12,"p":"C","r":10,"v":10},{"g":12,"p":"C","r":11,"v":10},{"g":12,"p":"C","r":12,"v":10},{"g":12,"p":"C","r":13,"v":10},{"g":12,"p":"C","r":14,"v":10},{"g":12,"p":"C","r":15,"v":10},
{"g":12,"p":"D","r":1,"v":5},{"g":12,"p":"D","r":2,"v":7},{"g":12,"p":"D","r":3,"v":7},{"g":12,"p":"D","r":4,"v":2},{"g":12,"p":"D","r":5,"v":2},{"g":12,"p":"D","r":6,"v":4},{"g":12,"p":"D","r":7,"v":4},{"g":12,"p":"D","r":8,"v":1},{"g":12,"p":"D","r":9,"v":1},{"g":12,"p":"D","r":10,"v":0},{"g":12,"p":"D","r":11,"v":0},{"g":12,"p":"D","r":12,"v":5},{"g":12,"p":"D","r":13,"v":3},{"g":12,"p":"D","r":14,"v":3},{"g":12,"p":"D","r":15,"v":2},
{"g":12,"p":"E","r":1,"v":7},{"g":12,"p":"E","r":2,"v":8},{"g":12,"p":"E","r":3,"v":8},{"g":12,"p":"E","r":4,"v":8},{"g":12,"p":"E","r":5,"v":8},{"g":12,"p":"E","r":6,"v":8},{"g":12,"p":"E","r":7,"v":7},{"g":12,"p":"E","r":8,"v":8},{"g":12,"p":"E","r":9,"v":9},{"g":12,"p":"E","r":10,"v":8},{"g":12,"p":"E","r":11,"v":8},{"g":12,"p":"E","r":12,"v":6},{"g":12,"p":"E","r":13,"v":8},{"g":12,"p":"E","r":14,"v":9},{"g":12,"p":"E","r":15,"v":5},
{"g":13,"p":"A","r":1,"v":10},{"g":13,"p":"A","r":2,"v":10},{"g":13,"p":"A","r":3,"v":10},{"g":13,"p":"A","r":4,"v":10},{"g":13,"p":"A","r":5,"v":10},{"g":13,"p":"A","r":6,"v":10},{"g":13,"p":"A","r":7,"v":10},{"g":13,"p":"A","r":8,"v":10},{"g":13,"p":"A","r":9,"v":10},{"g":13,"p":"A","r":10,"v":10},{"g":13,"p":"A","r":11,"v":10},{"g":13,"p":"A","r":12,"v":10},{"g":13,"p":"A","r":13,"v":10},{"g":13,"p":"A","r":14,"v":10},{"g":13,"p":"A","r":15,"v":10},
{"g":13,"p":"B","r":1,"v":10},{"g":13,"p":"B","r":2,"v":10},{"g":13,"p":"B","r":3,"v":8},{"g":13,"p":"B","r":4,"v":8},{"g":13,"p":"B","r":5,"v":8},{"g":13,"p":"B","r":6,"v":4},{"g":13,"p":"B","r":7,"v":0},{"g":13,"p":"B","r":8,"v":2},{"g":13,"p":"B","r":9,"v":5},{"g":13,"p":"B","r":10,"v":5},{"g":13,"p":"B","r":11,"v":5},{"g":13,"p":"B","r":12,"v":0},{"g":13,"p":"B","r":13,"v":0},{"g":13,"p":"B","r":14,"v":5},{"g":13,"p":"B","r":15,"v":0},
{"g":13,"p":"C","r":1,"v":5},{"g":13,"p":"C","r":2,"v":7},{"g":13,"p":"C","r":3,"v":8},{"g":13,"p":"C","r":4,"v":5},{"g":13,"p":"C","r":5,"v":10},{"g":13,"p":"C","r":6,"v":5},{"g":13,"p":"C","r":7,"v":5},{"g":13,"p":"C","r":8,"v":10},{"g":13,"p":"C","r":9,"v":8},{"g":13,"p":"C","r":10,"v":10},{"g":13,"p":"C","r":11,"v":5},{"g":13,"p":"C","r":12,"v":8},{"g":13,"p":"C","r":13,"v":8},{"g":13,"p":"C","r":14,"v":10},{"g":13,"p":"C","r":15,"v":5},
{"g":13,"p":"D","r":1,"v":4},{"g":13,"p":"D","r":2,"v":2},{"g":13,"p":"D","r":3,"v":0},{"g":13,"p":"D","r":4,"v":0},{"g":13,"p":"D","r":5,"v":0},{"g":13,"p":"D","r":6,"v":0},{"g":13,"p":"D","r":7,"v":0},{"g":13,"p":"D","r":8,"v":0},{"g":13,"p":"D","r":9,"v":0},{"g":13,"p":"D","r":10,"v":0},{"g":13,"p":"D","r":11,"v":0},{"g":13,"p":"D","r":12,"v":0},{"g":13,"p":"D","r":13,"v":0},{"g":13,"p":"D","r":14,"v":0},{"g":13,"p":"D","r":15,"v":0},
{"g":13,"p":"E","r":1,"v":10},{"g":13,"p":"E","r":2,"v":0},{"g":13,"p":"E","r":3,"v":0},{"g":13,"p":"E","r":4,"v":0},{"g":13,"p":"E","r":5,"v":0},{"g":13,"p":"E","r":6,"v":0},{"g":13,"p":"E","r":7,"v":0},{"g":13,"p":"E","r":8,"v":0},{"g":13,"p":"E","r":9,"v":0},{"g":13,"p":"E","r":10,"v":0},{"g":13,"p":"E","r":11,"v":0},{"g":13,"p":"E","r":12,"v":0},{"g":13,"p":"E","r":13,"v":0},{"g":13,"p":"E","r":14,"v":0},{"g":13,"p":"E","r":15,"v":0},
{"g":14,"p":"A","r":1,"v":4},{"g":14,"p":"A","r":2,"v":5},{"g":14,"p":"A","r":3,"v":3},{"g":14,"p":"A","r":4,"v":3},{"g":14,"p":"A","r":5,"v":4},{"g":14,"p":"A","r":6,"v":3},{"g":14,"p":"A","r":7,"v":6},{"g":14,"p":"A","r":8,"v":4},{"g":14,"p":"A","r":9,"v":5},{"g":14,"p":"A","r":10,"v":2},{"g":14,"p":"A","r":11,"v":4},{"g":14,"p":"A","r":12,"v":7},{"g":14,"p":"A","r":13,"v":6},{"g":14,"p":"A","r":14,"v":5},{"g":14,"p":"A","r":15,"v":1},
{"g":14,"p":"B","r":1,"v":7},{"g":14,"p":"B","r":2,"v":4},{"g":14,"p":"B","r":3,"v":4},{"g":14,"p":"B","r":4,"v":5},{"g":14,"p":"B","r":5,"v":6},{"g":14,"p":"B","r":6,"v":4},{"g":14,"p":"B","r":7,"v":4},{"g":14,"p":"B","r":8,"v":2},{"g":14,"p":"B","r":9,"v":0},{"g":14,"p":"B","r":10,"v":1},{"g":14,"p":"B","r":11,"v":4},{"g":14,"p":"B","r":12,"v":0},{"g":14,"p":"B","r":13,"v":0},{"g":14,"p":"B","r":14,"v":3},{"g":14,"p":"B","r":15,"v":1},
{"g":14,"p":"C","r":1,"v":5},{"g":14,"p":"C","r":2,"v":6},{"g":14,"p":"C","r":3,"v":6},{"g":14,"p":"C","r":4,"v":5},{"g":14,"p":"C","r":5,"v":5},{"g":14,"p":"C","r":6,"v":7},{"g":14,"p":"C","r":7,"v":4},{"g":14,"p":"C","r":8,"v":4},{"g":14,"p":"C","r":9,"v":8},{"g":14,"p":"C","r":10,"v":2},{"g":14,"p":"C","r":11,"v":2},{"g":14,"p":"C","r":12,"v":0},{"g":14,"p":"C","r":13,"v":1},{"g":14,"p":"C","r":14,"v":1},{"g":14,"p":"C","r":15,"v":10},
{"g":14,"p":"D","r":1,"v":10},{"g":14,"p":"D","r":2,"v":10},{"g":14,"p":"D","r":3,"v":10},{"g":14,"p":"D","r":4,"v":10},{"g":14,"p":"D","r":5,"v":10},{"g":14,"p":"D","r":6,"v":5},{"g":14,"p":"D","r":7,"v":4},{"g":14,"p":"D","r":8,"v":4},{"g":14,"p":"D","r":9,"v":0},{"g":14,"p":"D","r":10,"v":0},{"g":14,"p":"D","r":11,"v":10},{"g":14,"p":"D","r":12,"v":10},{"g":14,"p":"D","r":13,"v":10},{"g":14,"p":"D","r":14,"v":3},{"g":14,"p":"D","r":15,"v":1},
{"g":14,"p":"E","r":1,"v":8},{"g":14,"p":"E","r":2,"v":9},{"g":14,"p":"E","r":3,"v":9},{"g":14,"p":"E","r":4,"v":7},{"g":14,"p":"E","r":5,"v":7},{"g":14,"p":"E","r":6,"v":6},{"g":14,"p":"E","r":7,"v":5},{"g":14,"p":"E","r":8,"v":5},{"g":14,"p":"E","r":9,"v":4},{"g":14,"p":"E","r":10,"v":2},{"g":14,"p":"E","r":11,"v":5},{"g":14,"p":"E","r":12,"v":0},{"g":14,"p":"E","r":13,"v":5},{"g":14,"p":"E","r":14,"v":0},{"g":14,"p":"E","r":15,"v":0},
{"g":15,"p":"A","r":1,"v":10},{"g":15,"p":"A","r":2,"v":10},{"g":15,"p":"A","r":3,"v":10},{"g":15,"p":"A","r":4,"v":10},{"g":15,"p":"A","r":5,"v":10},{"g":15,"p":"A","r":6,"v":10},{"g":15,"p":"A","r":7,"v":10},{"g":15,"p":"A","r":8,"v":10},{"g":15,"p":"A","r":9,"v":10},{"g":15,"p":"A","r":10,"v":10},{"g":15,"p":"A","r":11,"v":10},{"g":15,"p":"A","r":12,"v":10},{"g":15,"p":"A","r":13,"v":10},{"g":15,"p":"A","r":14,"v":10},{"g":15,"p":"A","r":15,"v":10},
{"g":15,"p":"B","r":1,"v":5},{"g":15,"p":"B","r":2,"v":7},{"g":15,"p":"B","r":3,"v":9},{"g":15,"p":"B","r":4,"v":6},{"g":15,"p":"B","r":5,"v":3},{"g":15,"p":"B","r":6,"v":4},{"g":15,"p":"B","r":7,"v":5},{"g":15,"p":"B","r":8,"v":5},{"g":15,"p":"B","r":9,"v":6},{"g":15,"p":"B","r":10,"v":6},{"g":15,"p":"B","r":11,"v":5},{"g":15,"p":"B","r":12,"v":5},{"g":15,"p":"B","r":13,"v":5},{"g":15,"p":"B","r":14,"v":0},{"g":15,"p":"B","r":15,"v":0},
{"g":15,"p":"C","r":1,"v":10},{"g":15,"p":"C","r":2,"v":2},{"g":15,"p":"C","r":3,"v":5},{"g":15,"p":"C","r":4,"v":7},{"g":15,"p":"C","r":5,"v":3},{"g":15,"p":"C","r":6,"v":4},{"g":15,"p":"C","r":7,"v":6},{"g":15,"p":"C","r":8,"v":5},{"g":15,"p":"C","r":9,"v":5},{"g":15,"p":"C","r":10,"v":4},{"g":15,"p":"C","r":11,"v":5},{"g":15,"p":"C","r":12,"v":10},{"g":15,"p":"C","r":13,"v":1},{"g":15,"p":"C","r":14,"v":2},{"g":15,"p":"C","r":15,"v":0},
{"g":15,"p":"D","r":1,"v":10},{"g":15,"p":"D","r":2,"v":8},{"g":15,"p":"D","r":3,"v":10},{"g":15,"p":"D","r":4,"v":4},{"g":15,"p":"D","r":5,"v":6},{"g":15,"p":"D","r":6,"v":5},{"g":15,"p":"D","r":7,"v":8},{"g":15,"p":"D","r":8,"v":3},{"g":15,"p":"D","r":9,"v":6},{"g":15,"p":"D","r":10,"v":5},{"g":15,"p":"D","r":11,"v":7},{"g":15,"p":"D","r":12,"v":8},{"g":15,"p":"D","r":13,"v":2},{"g":15,"p":"D","r":14,"v":9},{"g":15,"p":"D","r":15,"v":0},
{"g":15,"p":"E","r":1,"v":3},{"g":15,"p":"E","r":2,"v":2},{"g":15,"p":"E","r":3,"v":2},{"g":15,"p":"E","r":4,"v":3},{"g":15,"p":"E","r":5,"v":2},{"g":15,"p":"E","r":6,"v":3},{"g":15,"p":"E","r":7,"v":3},{"g":15,"p":"E","r":8,"v":4},{"g":15,"p":"E","r":9,"v":3},{"g":15,"p":"E","r":10,"v":4},{"g":15,"p":"E","r":11,"v":2},{"g":15,"p":"E","r":12,"v":2},{"g":15,"p":"E","r":13,"v":2},{"g":15,"p":"E","r":14,"v":3},{"g":15,"p":"E","r":15,"v":2},
{"g":16,"p":"A","r":1,"v":7},{"g":16,"p":"A","r":2,"v":8},{"g":16,"p":"A","r":3,"v":9},{"g":16,"p":"A","r":4,"v":8},{"g":16,"p":"A","r":5,"v":8},{"g":16,"p":"A","r":6,"v":8},{"g":16,"p":"A","r":7,"v":8},{"g":16,"p":"A","r":8,"v":8},{"g":16,"p":"A","r":9,"v":7},{"g":16,"p":"A","r":10,"v":7},{"g":16,"p":"A","r":11,"v":8},{"g":16,"p":"A","r":12,"v":8},{"g":16,"p":"A","r":13,"v":7},{"g":16,"p":"A","r":14,"v":7},{"g":16,"p":"A","r":15,"v":7},
{"g":16,"p":"B","r":1,"v":7},{"g":16,"p":"B","r":2,"v":10},{"g":16,"p":"B","r":3,"v":10},{"g":16,"p":"B","r":4,"v":10},{"g":16,"p":"B","r":5,"v":10},{"g":16,"p":"B","r":6,"v":8},{"g":16,"p":"B","r":7,"v":8},{"g":16,"p":"B","r":8,"v":8},{"g":16,"p":"B","r":9,"v":9},{"g":16,"p":"B","r":10,"v":10},{"g":16,"p":"B","r":11,"v":6},{"g":16,"p":"B","r":12,"v":7},{"g":16,"p":"B","r":13,"v":8},{"g":16,"p":"B","r":14,"v":0},{"g":16,"p":"B","r":15,"v":6},
{"g":16,"p":"C","r":1,"v":6},{"g":16,"p":"C","r":2,"v":10},{"g":16,"p":"C","r":3,"v":4},{"g":16,"p":"C","r":4,"v":9},{"g":16,"p":"C","r":5,"v":7},{"g":16,"p":"C","r":6,"v":9},{"g":16,"p":"C","r":7,"v":8},{"g":16,"p":"C","r":8,"v":3},{"g":16,"p":"C","r":9,"v":7},{"g":16,"p":"C","r":10,"v":10},{"g":16,"p":"C","r":11,"v":7},{"g":16,"p":"C","r":12,"v":9},{"g":16,"p":"C","r":13,"v":5},{"g":16,"p":"C","r":14,"v":8},{"g":16,"p":"C","r":15,"v":7},
{"g":16,"p":"D","r":1,"v":0},{"g":16,"p":"D","r":2,"v":0},{"g":16,"p":"D","r":3,"v":0},{"g":16,"p":"D","r":4,"v":0},{"g":16,"p":"D","r":5,"v":0},{"g":16,"p":"D","r":6,"v":0},{"g":16,"p":"D","r":7,"v":0},{"g":16,"p":"D","r":8,"v":0},{"g":16,"p":"D","r":9,"v":0},{"g":16,"p":"D","r":10,"v":0},{"g":16,"p":"D","r":11,"v":1},{"g":16,"p":"D","r":12,"v":1},{"g":16,"p":"D","r":13,"v":0},{"g":16,"p":"D","r":14,"v":0},{"g":16,"p":"D","r":15,"v":0},
{"g":16,"p":"E","r":1,"v":5},{"g":16,"p":"E","r":2,"v":4},{"g":16,"p":"E","r":3,"v":3},{"g":16,"p":"E","r":4,"v":0},{"g":16,"p":"E","r":5,"v":0},{"g":16,"p":"E","r":6,"v":1},{"g":16,"p":"E","r":7,"v":1},{"g":16,"p":"E","r":8,"v":1},{"g":16,"p":"E","r":9,"v":1},{"g":16,"p":"E","r":10,"v":0},{"g":16,"p":"E","r":11,"v":0},{"g":16,"p":"E","r":12,"v":0},{"g":16,"p":"E","r":13,"v":0},{"g":16,"p":"E","r":14,"v":0},{"g":16,"p":"E","r":15,"v":0}
]},
"config":{
"font":"Liberation Sans",
"view":{"fill":"white","stroke":null},
"range":{"category":["#1A476F","#90353B","#55752F","#E37E00","#6E8E84"]},
"axis":{"gridColor":"#EAF2F3","gridWidth":1.5,"domainColor":"#000","domainWidth":2,"tickColor":"#000","tickWidth":1.5,"tickSize":7,"labelColor":"#000","labelFontSize":16,"labelFont":"Liberation Sans","titleFont":"Liberation Sans","titleColor":"#000","titleFontWeight":"normal"},
"legend":{"orient":"none","legendX":373,"legendY":710,"columns":2,"direction":"horizontal","labelFontSize":30,"labelColor":"#000","labelFont":"Liberation Sans","labelOffset":118,"padding":15,"rowPadding":16.5,"columnPadding":49,"strokeColor":"#000","fillColor":"#fff"}
},
"spacing":29,
"vconcat":[
{"spacing":24,"vconcat":[
{"bounds":"flush","spacing":25,"hconcat":[
{"width":182,"height":174,"layer":[
{"transform":[{"filter":"datum.g==1"}],"mark":{"type":"line","strokeWidth":1.5,"point":{"filled":true,"size":40}},"encoding":{"x":{"field":"r","type":"quantitative","scale":{"domain":[-1.47,16.01],"nice":false,"zero":false},"axis":null},"y":{"field":"v","type":"quantitative","scale":{"domain":[-0.94,13.56],"nice":false,"zero":false},"axis":{"values":[0,5,10],"domain":false,"labelAngle":-90,"labelAlign":"center","labelBaseline":"middle","labelPadding":19,"title":" ","titleX":-66,"titleY":124,"titleAngle":-90,"titleAlign":"center","titleBaseline":"middle","titleFontSize":31}},"color":{"field":"p","type":"nominal","title":null,"legend":{"symbolType":"M-1,0L7.67,0M2.71,0A0.42,0.42,0,1,1,3.55,0A0.42,0.42,0,1,1,2.71,0Z","symbolSize":900,"symbolStrokeWidth":3,"encode":{"symbols":{"update":{"fill":{"scale":"color","field":"value"},"stroke":{"scale":"color","field":"value"}}},"legend":{"update":{"stroke":{"value":"#000"},"strokeWidth":{"value":2},"fill":{"value":"#fff"}}}}}}}},
{"data":{"values":[{"name":"NLH-S1-G1"}]},"mark":{"type":"text","fontSize":24,"color":"#000"},"encoding":{"text":{"field":"name"},"x":{"datum":7.27},"y":{"datum":12.55}}},
{"data":{"values":[{}]},"mark":{"type":"rect","color":"#EAF2F3"},"encoding":{"x":{"datum":-1.47},"x2":{"datum":16.01},"y":{"datum":11.06},"y2":{"datum":11.31}}},
{"data":{"values":[{}]},"mark":{"type":"rule","color":"#000","strokeWidth":2},"encoding":{"x":{"datum":-1.47},"y":{"datum":-0.94},"y2":{"datum":10.95}}}
]},
{"width":182,"height":174,"layer":[
{"transform":[{"filter":"datum.g==2"}],"mark":{"type":"line","strokeWidth":1.5,"point":{"filled":true,"size":40}},"encoding":{"x":{"field":"r","type":"quantitative","scale":{"domain":[-1.47,16.01],"nice":false,"zero":false},"axis":null},"y":{"field":"v","type":"quantitative","scale":{"domain":[-0.94,13.56],"nice":false,"zero":false},"axis":{"values":[0,5,10],"domain":false,"labels":false,"ticks":false,"title":null}},"color":{"field":"p","type":"nominal","title":null,"legend":{"symbolType":"M-1,0L7.67,0M2.71,0A0.42,0.42,0,1,1,3.55,0A0.42,0.42,0,1,1,2.71,0Z","symbolSize":900,"symbolStrokeWidth":3,"encode":{"symbols":{"update":{"fill":{"scale":"color","field":"value"},"stroke":{"scale":"color","field":"value"}}},"legend":{"update":{"stroke":{"value":"#000"},"strokeWidth":{"value":2},"fill":{"value":"#fff"}}}}}}}},
{"data":{"values":[{"name":"NLH-S1-G2"}]},"mark":{"type":"text","fontSize":24,"color":"#000"},"encoding":{"text":{"field":"name"},"x":{"datum":7.27},"y":{"datum":12.55}}},
{"data":{"values":[{}]},"mark":{"type":"rect","color":"#EAF2F3"},"encoding":{"x":{"datum":-1.47},"x2":{"datum":16.01},"y":{"datum":11.06},"y2":{"datum":11.31}}}
]},
{"width":182,"height":174,"layer":[
{"transform":[{"filter":"datum.g==3"}],"mark":{"type":"line","strokeWidth":1.5,"point":{"filled":true,"size":40}},"encoding":{"x":{"field":"r","type":"quantitative","scale":{"domain":[-1.47,16.01],"nice":false,"zero":false},"axis":null},"y":{"field":"v","type":"quantitative","scale":{"domain":[-0.94,13.56],"nice":false,"zero":false},"axis":{"values":[0,5,10],"domain":false,"labels":false,"ticks":false,"title":null}},"color":{"field":"p","type":"nominal","title":null,"legend":{"symbolType":"M-1,0L7.67,0M2.71,0A0.42,0.42,0,1,1,3.55,0A0.42,0.42,0,1,1,2.71,0Z","symbolSize":900,"symbolStrokeWidth":3,"encode":{"symbols":{"update":{"fill":{"scale":"color","field":"value"},"stroke":{"scale":"color","field":"value"}}},"legend":{"update":{"stroke":{"value":"#000"},"strokeWidth":{"value":2},"fill":{"value":"#fff"}}}}}}}},
{"data":{"values":[{"name":"NLH-S1-G3"}]},"mark":{"type":"text","fontSize":24,"color":"#000"},"encoding":{"text":{"field":"name"},"x":{"datum":7.27},"y":{"datum":12.55}}},
{"data":{"values":[{}]},"mark":{"type":"rect","color":"#EAF2F3"},"encoding":{"x":{"datum":-1.47},"x2":{"datum":16.01},"y":{"datum":11.06},"y2":{"datum":11.31}}}
]},
{"width":182,"height":174,"layer":[
{"transform":[{"filter":"datum.g==4"}],"mark":{"type":"line","strokeWidth":1.5,"point":{"filled":true,"size":40}},"encoding":{"x":{"field":"r","type":"quantitative","scale":{"domain":[-1.47,16.01],"nice":false,"zero":false},"axis":null},"y":{"field":"v","type":"quantitative","scale":{"domain":[-0.94,13.56],"nice":false,"zero":false},"axis":{"values":[0,5,10],"domain":false,"labels":false,"ticks":false,"title":null}},"color":{"field":"p","type":"nominal","title":null,"legend":{"symbolType":"M-1,0L7.67,0M2.71,0A0.42,0.42,0,1,1,3.55,0A0.42,0.42,0,1,1,2.71,0Z","symbolSize":900,"symbolStrokeWidth":3,"encode":{"symbols":{"update":{"fill":{"scale":"color","field":"value"},"stroke":{"scale":"color","field":"value"}}},"legend":{"update":{"stroke":{"value":"#000"},"strokeWidth":{"value":2},"fill":{"value":"#fff"}}}}}}}},
{"data":{"values":[{"name":"NLH-S2-G1"}]},"mark":{"type":"text","fontSize":24,"color":"#000"},"encoding":{"text":{"field":"name"},"x":{"datum":7.27},"y":{"datum":12.55}}},
{"data":{"values":[{}]},"mark":{"type":"rect","color":"#EAF2F3"},"encoding":{"x":{"datum":-1.47},"x2":{"datum":16.01},"y":{"datum":11.06},"y2":{"datum":11.31}}}
]},
{"width":182,"height":174,"layer":[
{"transform":[{"filter":"datum.g==5"}],"mark":{"type":"line","strokeWidth":1.5,"point":{"filled":true,"size":40}},"encoding":{"x":{"field":"r","type":"quantitative","scale":{"domain":[-1.47,16.01],"nice":false,"zero":false},"axis":null},"y":{"field":"v","type":"quantitative","scale":{"domain":[-0.94,13.56],"nice":false,"zero":false},"axis":{"values":[0,5,10],"domain":false,"labels":false,"ticks":false,"title":null}},"color":{"field":"p","type":"nominal","title":null,"legend":{"symbolType":"M-1,0L7.67,0M2.71,0A0.42,0.42,0,1,1,3.55,0A0.42,0.42,0,1,1,2.71,0Z","symbolSize":900,"symbolStrokeWidth":3,"encode":{"symbols":{"update":{"fill":{"scale":"color","field":"value"},"stroke":{"scale":"color","field":"value"}}},"legend":{"update":{"stroke":{"value":"#000"},"strokeWidth":{"value":2},"fill":{"value":"#fff"}}}}}}}},
{"data":{"values":[{"name":"NLH-S2-G2"}]},"mark":{"type":"text","fontSize":24,"color":"#000"},"encoding":{"text":{"field":"name"},"x":{"datum":7.27},"y":{"datum":12.55}}},
{"data":{"values":[{}]},"mark":{"type":"rect","color":"#EAF2F3"},"encoding":{"x":{"datum":-1.47},"x2":{"datum":16.01},"y":{"datum":11.06},"y2":{"datum":11.31}}}
]},
{"width":182,"height":174,"layer":[
{"transform":[{"filter":"datum.g==6"}],"mark":{"type":"line","strokeWidth":1.5,"point":{"filled":true,"size":40}},"encoding":{"x":{"field":"r","type":"quantitative","scale":{"domain":[-1.47,16.01],"nice":false,"zero":false},"axis":null},"y":{"field":"v","type":"quantitative","scale":{"domain":[-0.94,13.56],"nice":false,"zero":false},"axis":{"values":[0,5,10],"domain":false,"labels":false,"ticks":false,"title":null}},"color":{"field":"p","type":"nominal","title":null,"legend":{"symbolType":"M-1,0L7.67,0M2.71,0A0.42,0.42,0,1,1,3.55,0A0.42,0.42,0,1,1,2.71,0Z","symbolSize":900,"symbolStrokeWidth":3,"encode":{"symbols":{"update":{"fill":{"scale":"color","field":"value"},"stroke":{"scale":"color","field":"value"}}},"legend":{"update":{"stroke":{"value":"#000"},"strokeWidth":{"value":2},"fill":{"value":"#fff"}}}}}}}},
{"data":{"values":[{"name":"NLH-S2-G3"}]},"mark":{"type":"text","fontSize":24,"color":"#000"},"encoding":{"text":{"field":"name"},"x":{"datum":7.27},"y":{"datum":12.55}}},
{"data":{"values":[{}]},"mark":{"type":"rect","color":"#EAF2F3"},"encoding":{"x":{"datum":-1.47},"x2":{"datum":16.01},"y":{"datum":11.06},"y2":{"datum":11.31}}}
]}
]},
{"bounds":"flush","spacing":25,"hconcat":[
{"width":182,"height":174,"layer":[
{"transform":[{"filter":"datum.g==7"}],"mark":{"type":"line","strokeWidth":1.5,"point":{"filled":true,"size":40}},"encoding":{"x":{"field":"r","type":"quantitative","scale":{"domain":[-1.47,16.01],"nice":false,"zero":false},"axis":null},"y":{"field":"v","type":"quantitative","scale":{"domain":[-0.94,13.56],"nice":false,"zero":false},"axis":{"values":[0,5,10],"domain":false,"labelAngle":-90,"labelAlign":"center","labelBaseline":"middle","labelPadding":19,"title":"Investment","titleX":-66,"titleY":124,"titleAngle":-90,"titleAlign":"center","titleBaseline":"middle","titleFontSize":31}},"color":{"field":"p","type":"nominal","title":null,"legend":{"symbolType":"M-1,0L7.67,0M2.71,0A0.42,0.42,0,1,1,3.55,0A0.42,0.42,0,1,1,2.71,0Z","symbolSize":900,"symbolStrokeWidth":3,"encode":{"symbols":{"update":{"fill":{"scale":"color","field":"value"},"stroke":{"scale":"color","field":"value"}}},"legend":{"update":{"stroke":{"value":"#000"},"strokeWidth":{"value":2},"fill":{"value":"#fff"}}}}}}}},
{"data":{"values":[{"name":"NHL-S5-G1"}]},"mark":{"type":"text","fontSize":24,"color":"#000"},"encoding":{"text":{"field":"name"},"x":{"datum":7.27},"y":{"datum":12.55}}},
{"data":{"values":[{}]},"mark":{"type":"rect","color":"#EAF2F3"},"encoding":{"x":{"datum":-1.47},"x2":{"datum":16.01},"y":{"datum":11.06},"y2":{"datum":11.31}}},
{"data":{"values":[{}]},"mark":{"type":"rule","color":"#000","strokeWidth":2},"encoding":{"x":{"datum":-1.47},"y":{"datum":-0.94},"y2":{"datum":10.95}}}
]},
{"width":182,"height":174,"layer":[
{"transform":[{"filter":"datum.g==8"}],"mark":{"type":"line","strokeWidth":1.5,"point":{"filled":true,"size":40}},"encoding":{"x":{"field":"r","type":"quantitative","scale":{"domain":[-1.47,16.01],"nice":false,"zero":false},"axis":null},"y":{"field":"v","type":"quantitative","scale":{"domain":[-0.94,13.56],"nice":false,"zero":false},"axis":{"values":[0,5,10],"domain":false,"labels":false,"ticks":false,"title":null}},"color":{"field":"p","type":"nominal","title":null,"legend":{"symbolType":"M-1,0L7.67,0M2.71,0A0.42,0.42,0,1,1,3.55,0A0.42,0.42,0,1,1,2.71,0Z","symbolSize":900,"symbolStrokeWidth":3,"encode":{"symbols":{"update":{"fill":{"scale":"color","field":"value"},"stroke":{"scale":"color","field":"value"}}},"legend":{"update":{"stroke":{"value":"#000"},"strokeWidth":{"value":2},"fill":{"value":"#fff"}}}}}}}},
{"data":{"values":[{"name":"NHL-S5-G2"}]},"mark":{"type":"text","fontSize":24,"color":"#000"},"encoding":{"text":{"field":"name"},"x":{"datum":7.27},"y":{"datum":12.55}}},
{"data":{"values":[{}]},"mark":{"type":"rect","color":"#EAF2F3"},"encoding":{"x":{"datum":-1.47},"x2":{"datum":16.01},"y":{"datum":11.06},"y2":{"datum":11.31}}}
]},
{"width":182,"height":174,"layer":[
{"transform":[{"filter":"datum.g==9"}],"mark":{"type":"line","strokeWidth":1.5,"point":{"filled":true,"size":40}},"encoding":{"x":{"field":"r","type":"quantitative","scale":{"domain":[-1.47,16.01],"nice":false,"zero":false},"axis":null},"y":{"field":"v","type":"quantitative","scale":{"domain":[-0.94,13.56],"nice":false,"zero":false},"axis":{"values":[0,5,10],"domain":false,"labels":false,"ticks":false,"title":null}},"color":{"field":"p","type":"nominal","title":null,"legend":{"symbolType":"M-1,0L7.67,0M2.71,0A0.42,0.42,0,1,1,3.55,0A0.42,0.42,0,1,1,2.71,0Z","symbolSize":900,"symbolStrokeWidth":3,"encode":{"symbols":{"update":{"fill":{"scale":"color","field":"value"},"stroke":{"scale":"color","field":"value"}}},"legend":{"update":{"stroke":{"value":"#000"},"strokeWidth":{"value":2},"fill":{"value":"#fff"}}}}}}}},
{"data":{"values":[{"name":"NHL-S6-G1"}]},"mark":{"type":"text","fontSize":24,"color":"#000"},"encoding":{"text":{"field":"name"},"x":{"datum":7.27},"y":{"datum":12.55}}},
{"data":{"values":[{}]},"mark":{"type":"rect","color":"#EAF2F3"},"encoding":{"x":{"datum":-1.47},"x2":{"datum":16.01},"y":{"datum":11.06},"y2":{"datum":11.31}}}
]},
{"width":182,"height":174,"layer":[
{"transform":[{"filter":"datum.g==10"}],"mark":{"type":"line","strokeWidth":1.5,"point":{"filled":true,"size":40}},"encoding":{"x":{"field":"r","type":"quantitative","scale":{"domain":[-1.47,16.01],"nice":false,"zero":false},"axis":null},"y":{"field":"v","type":"quantitative","scale":{"domain":[-0.94,13.56],"nice":false,"zero":false},"axis":{"values":[0,5,10],"domain":false,"labels":false,"ticks":false,"title":null}},"color":{"field":"p","type":"nominal","title":null,"legend":{"symbolType":"M-1,0L7.67,0M2.71,0A0.42,0.42,0,1,1,3.55,0A0.42,0.42,0,1,1,2.71,0Z","symbolSize":900,"symbolStrokeWidth":3,"encode":{"symbols":{"update":{"fill":{"scale":"color","field":"value"},"stroke":{"scale":"color","field":"value"}}},"legend":{"update":{"stroke":{"value":"#000"},"strokeWidth":{"value":2},"fill":{"value":"#fff"}}}}}}}},
{"data":{"values":[{"name":"NHL-S6-G2"}]},"mark":{"type":"text","fontSize":24,"color":"#000"},"encoding":{"text":{"field":"name"},"x":{"datum":7.27},"y":{"datum":12.55}}},
{"data":{"values":[{}]},"mark":{"type":"rect","color":"#EAF2F3"},"encoding":{"x":{"datum":-1.47},"x2":{"datum":16.01},"y":{"datum":11.06},"y2":{"datum":11.31}}}
]},
{"width":182,"height":174,"layer":[
{"transform":[{"filter":"datum.g==11"}],"mark":{"type":"line","strokeWidth":1.5,"point":{"filled":true,"size":40}},"encoding":{"x":{"field":"r","type":"quantitative","scale":{"domain":[-1.47,16.01],"nice":false,"zero":false},"axis":{"values":[0,5,10,15],"grid":false,"labelAngle":0,"labelPadding":11,"title":null}},"y":{"field":"v","type":"quantitative","scale":{"domain":[-0.94,13.56],"nice":false,"zero":false},"axis":{"values":[0,5,10],"domain":false,"labels":false,"ticks":false,"title":null}},"color":{"field":"p","type":"nominal","title":null,"legend":{"symbolType":"M-1,0L7.67,0M2.71,0A0.42,0.42,0,1,1,3.55,0A0.42,0.42,0,1,1,2.71,0Z","symbolSize":900,"symbolStrokeWidth":3,"encode":{"symbols":{"update":{"fill":{"scale":"color","field":"value"},"stroke":{"scale":"color","field":"value"}}},"legend":{"update":{"stroke":{"value":"#000"},"strokeWidth":{"value":2},"fill":{"value":"#fff"}}}}}}}},
{"data":{"values":[{"name":"NHL-S6-G3"}]},"mark":{"type":"text","fontSize":24,"color":"#000"},"encoding":{"text":{"field":"name"},"x":{"datum":7.27},"y":{"datum":12.55}}},
{"data":{"values":[{}]},"mark":{"type":"rect","color":"#EAF2F3"},"encoding":{"x":{"datum":-1.47},"x2":{"datum":16.01},"y":{"datum":11.06},"y2":{"datum":11.31}}}
]},
{"width":182,"height":174,"layer":[
{"transform":[{"filter":"datum.g==12"}],"mark":{"type":"line","strokeWidth":1.5,"point":{"filled":true,"size":40}},"encoding":{"x":{"field":"r","type":"quantitative","scale":{"domain":[-1.47,16.01],"nice":false,"zero":false},"axis":{"values":[0,5,10,15],"grid":false,"labelAngle":0,"labelPadding":11,"title":null}},"y":{"field":"v","type":"quantitative","scale":{"domain":[-0.94,13.56],"nice":false,"zero":false},"axis":{"values":[0,5,10],"domain":false,"labels":false,"ticks":false,"title":null}},"color":{"field":"p","type":"nominal","title":null,"legend":{"symbolType":"M-1,0L7.67,0M2.71,0A0.42,0.42,0,1,1,3.55,0A0.42,0.42,0,1,1,2.71,0Z","symbolSize":900,"symbolStrokeWidth":3,"encode":{"symbols":{"update":{"fill":{"scale":"color","field":"value"},"stroke":{"scale":"color","field":"value"}}},"legend":{"update":{"stroke":{"value":"#000"},"strokeWidth":{"value":2},"fill":{"value":"#fff"}}}}}}}},
{"data":{"values":[{"name":"LHN-S7-G1"}]},"mark":{"type":"text","fontSize":24,"color":"#000"},"encoding":{"text":{"field":"name"},"x":{"datum":7.27},"y":{"datum":12.55}}},
{"data":{"values":[{}]},"mark":{"type":"rect","color":"#EAF2F3"},"encoding":{"x":{"datum":-1.47},"x2":{"datum":16.01},"y":{"datum":11.06},"y2":{"datum":11.31}}}
]}
]}
]},
{"bounds":"flush","spacing":25,"hconcat":[
{"width":182,"height":174,"layer":[
{"transform":[{"filter":"datum.g==13"}],"mark":{"type":"line","strokeWidth":1.5,"point":{"filled":true,"size":40}},"encoding":{"x":{"field":"r","type":"quantitative","scale":{"domain":[-1.47,16.01],"nice":false,"zero":false},"axis":{"values":[0,5,10,15],"grid":false,"labelAngle":0,"labelPadding":11,"title":"Graphs by Group ID","titleX":-43,"titleY":292,"titleAlign":"left","titleBaseline":"middle","titleFontSize":27}},"y":{"field":"v","type":"quantitative","scale":{"domain":[-0.94,13.56],"nice":false,"zero":false},"axis":{"values":[0,5,10],"domain":false,"labelAngle":-90,"labelAlign":"center","labelBaseline":"middle","labelPadding":19,"title":" ","titleX":-66,"titleY":124,"titleAngle":-90,"titleAlign":"center","titleBaseline":"middle","titleFontSize":31}},"color":{"field":"p","type":"nominal","title":null,"legend":{"symbolType":"M-1,0L7.67,0M2.71,0A0.42,0.42,0,1,1,3.55,0A0.42,0.42,0,1,1,2.71,0Z","symbolSize":900,"symbolStrokeWidth":3,"encode":{"symbols":{"update":{"fill":{"scale":"color","field":"value"},"stroke":{"scale":"color","field":"value"}}},"legend":{"update":{"stroke":{"value":"#000"},"strokeWidth":{"value":2},"fill":{"value":"#fff"}}}}}}}},
{"data":{"values":[{"name":"LHN-S7-G2"}]},"mark":{"type":"text","fontSize":24,"color":"#000"},"encoding":{"text":{"field":"name"},"x":{"datum":7.27},"y":{"datum":12.55}}},
{"data":{"values":[{}]},"mark":{"type":"rect","color":"#EAF2F3"},"encoding":{"x":{"datum":-1.47},"x2":{"datum":16.01},"y":{"datum":11.06},"y2":{"datum":11.31}}},
{"data":{"values":[{}]},"mark":{"type":"rule","color":"#000","strokeWidth":2},"encoding":{"x":{"datum":-1.47},"y":{"datum":-0.94},"y2":{"datum":10.95}}}
]},
{"width":182,"height":174,"layer":[
{"transform":[{"filter":"datum.g==14"}],"mark":{"type":"line","strokeWidth":1.5,"point":{"filled":true,"size":40}},"encoding":{"x":{"field":"r","type":"quantitative","scale":{"domain":[-1.47,16.01],"nice":false,"zero":false},"axis":{"values":[0,5,10,15],"grid":false,"labelAngle":0,"labelPadding":11,"title":null}},"y":{"field":"v","type":"quantitative","scale":{"domain":[-0.94,13.56],"nice":false,"zero":false},"axis":{"values":[0,5,10],"domain":false,"labels":false,"ticks":false,"title":null}},"color":{"field":"p","type":"nominal","title":null,"legend":{"symbolType":"M-1,0L7.67,0M2.71,0A0.42,0.42,0,1,1,3.55,0A0.42,0.42,0,1,1,2.71,0Z","symbolSize":900,"symbolStrokeWidth":3,"encode":{"symbols":{"update":{"fill":{"scale":"color","field":"value"},"stroke":{"scale":"color","field":"value"}}},"legend":{"update":{"stroke":{"value":"#000"},"strokeWidth":{"value":2},"fill":{"value":"#fff"}}}}}}}},
{"data":{"values":[{"name":"LHN-S8-G1"}]},"mark":{"type":"text","fontSize":24,"color":"#000"},"encoding":{"text":{"field":"name"},"x":{"datum":7.27},"y":{"datum":12.55}}},
{"data":{"values":[{}]},"mark":{"type":"rect","color":"#EAF2F3"},"encoding":{"x":{"datum":-1.47},"x2":{"datum":16.01},"y":{"datum":11.06},"y2":{"datum":11.31}}}
]},
{"width":182,"height":174,"layer":[
{"transform":[{"filter":"datum.g==15"}],"mark":{"type":"line","strokeWidth":1.5,"point":{"filled":true,"size":40}},"encoding":{"x":{"field":"r","type":"quantitative","scale":{"domain":[-1.47,16.01],"nice":false,"zero":false},"axis":{"values":[0,5,10,15],"grid":false,"labelAngle":0,"labelPadding":11,"title":"Round","titleX":177,"titleY":68,"titleAlign":"center","titleBaseline":"middle","titleFontSize":31}},"y":{"field":"v","type":"quantitative","scale":{"domain":[-0.94,13.56],"nice":false,"zero":false},"axis":{"values":[0,5,10],"domain":false,"labels":false,"ticks":false,"title":null}},"color":{"field":"p","type":"nominal","title":null,"legend":{"symbolType":"M-1,0L7.67,0M2.71,0A0.42,0.42,0,1,1,3.55,0A0.42,0.42,0,1,1,2.71,0Z","symbolSize":900,"symbolStrokeWidth":3,"encode":{"symbols":{"update":{"fill":{"scale":"color","field":"value"},"stroke":{"scale":"color","field":"value"}}},"legend":{"update":{"stroke":{"value":"#000"},"strokeWidth":{"value":2},"fill":{"value":"#fff"}}}}}}}},
{"data":{"values":[{"name":"LHN-S8-G2"}]},"mark":{"type":"text","fontSize":24,"color":"#000"},"encoding":{"text":{"field":"name"},"x":{"datum":7.27},"y":{"datum":12.55}}},
{"data":{"values":[{}]},"mark":{"type":"rect","color":"#EAF2F3"},"encoding":{"x":{"datum":-1.47},"x2":{"datum":16.01},"y":{"datum":11.06},"y2":{"datum":11.31}}}
]},
{"width":182,"height":174,"layer":[
{"transform":[{"filter":"datum.g==16"}],"mark":{"type":"line","strokeWidth":1.5,"point":{"filled":true,"size":40}},"encoding":{"x":{"field":"r","type":"quantitative","scale":{"domain":[-1.47,16.01],"nice":false,"zero":false},"axis":{"values":[0,5,10,15],"grid":false,"labelAngle":0,"labelPadding":11,"title":null}},"y":{"field":"v","type":"quantitative","scale":{"domain":[-0.94,13.56],"nice":false,"zero":false},"axis":{"values":[0,5,10],"domain":false,"labels":false,"ticks":false,"title":null}},"color":{"field":"p","type":"nominal","title":null,"legend":{"symbolType":"M-1,0L7.67,0M2.71,0A0.42,0.42,0,1,1,3.55,0A0.42,0.42,0,1,1,2.71,0Z","symbolSize":900,"symbolStrokeWidth":3,"encode":{"symbols":{"update":{"fill":{"scale":"color","field":"value"},"stroke":{"scale":"color","field":"value"}}},"legend":{"update":{"stroke":{"value":"#000"},"strokeWidth":{"value":2},"fill":{"value":"#fff"}}}}}}}},
{"data":{"values":[{"name":"LHN-S8-G3"}]},"mark":{"type":"text","fontSize":24,"color":"#000"},"encoding":{"text":{"field":"name"},"x":{"datum":7.27},"y":{"datum":12.55}}},
{"data":{"values":[{}]},"mark":{"type":"rect","color":"#EAF2F3"},"encoding":{"x":{"datum":-1.47},"x2":{"datum":16.01},"y":{"datum":11.06},"y2":{"datum":11.31}}}
]}
]}
]
}
